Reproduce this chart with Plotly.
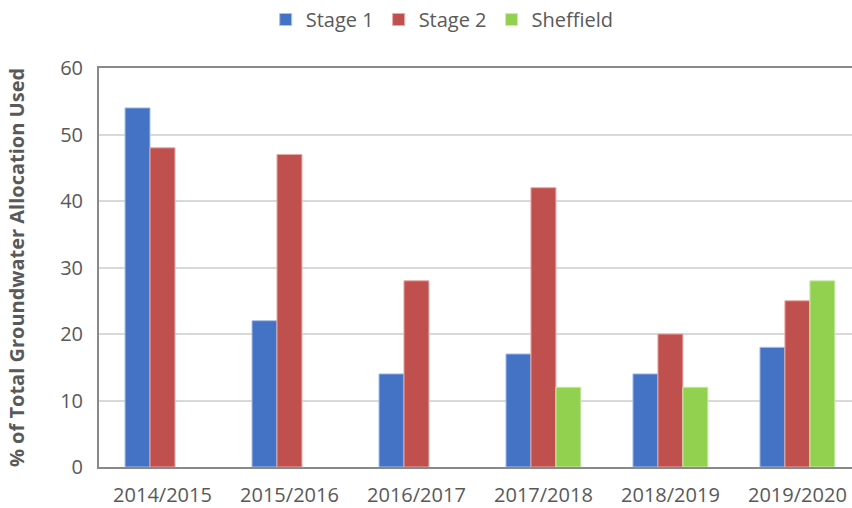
import plotly.graph_objects as go

categories = ["2014/2015", "2015/2016", "2016/2017", "2017/2018", "2018/2019", "2019/2020"]
stage1 = [54, 22, 14, 17, 14, 18]
stage2 = [48, 47, 28, 42, 20, 25]
sheffield = [None, None, None, 12, 12, 28]
y_ticks = [0, 10, 20, 30, 40, 50, 60]

font_family = "Open Sans, Noto Sans, sans-serif"
text_color = "#595959"
fs = 20

fig = go.Figure()
fig.add_trace(go.Bar(name="Stage 1", x=categories, y=stage1,
                     marker=dict(color="#4472C4", line=dict(color="#A9C0E8", width=1))))
fig.add_trace(go.Bar(name="Stage 2", x=categories, y=stage2,
                     marker=dict(color="#C0504D", line=dict(color="#E6A9A7", width=1))))
fig.add_trace(go.Bar(name="Sheffield", x=categories, y=sheffield,
                     marker=dict(color="#92D050", line=dict(color="#CDEBB0", width=1))))

fig.update_layout(
    width=852, height=508,
    barmode="group", bargap=0.41, bargroupgap=0,
    paper_bgcolor="white", plot_bgcolor="white",
    margin=dict(l=99, r=0, t=68, b=41, autoexpand=False),
    font=dict(family=font_family, color=text_color, size=fs),
    legend=dict(orientation="h", x=0.519, xref="container", xanchor="center",
                y=1.0, yanchor="top", yref="container",
                font=dict(size=fs, color=text_color),
                traceorder="normal", itemwidth=30),
    showlegend=True,
)
fig.update_xaxes(range=[-0.5, 5.43], showline=True, linecolor="#898989", linewidth=2,
                 mirror=True, ticks="", tickfont=dict(size=fs, color=text_color),
                 ticklabelstandoff=9, showgrid=False, automargin=False)
fig.update_yaxes(range=[0, 60], tickvals=y_ticks, showline=True, linecolor="#898989",
                 linewidth=2, mirror=True, gridcolor="#D9D9D9", gridwidth=1.5,
                 ticks="", tickfont=dict(size=fs, color=text_color), ticklabelstandoff=10,
                 title=dict(text="<b>% of Total Groundwater Allocation Used</b>",
                            font=dict(size=fs, color=text_color), standoff=30),
                 zeroline=False, automargin=False)

fig.write_html("out.html", config={"displayModeBar": False},
               post_script="document.body.style.margin='0';document.body.style.overflow='hidden';")
